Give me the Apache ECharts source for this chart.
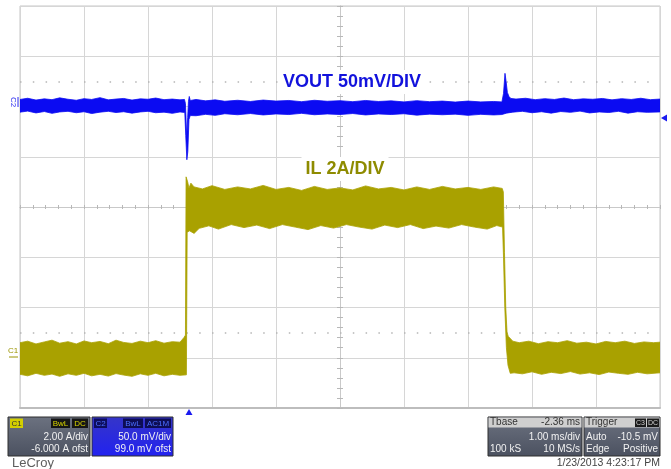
<!DOCTYPE html>
<html><head><meta charset="utf-8">
<script src="https://cdn.jsdelivr.net/npm/echarts@6/dist/echarts.min.js"></script>
<style>html,body{margin:0;padding:0;background:#fff}#c{width:671px;height:469px}</style>
</head><body><div id="c"></div><script>
// ---------- DATA (time in ms from left edge of screen, 1 ms/div) ----------
// C1 inductor current IL (A), 2 A/div, -6 A offset -> envelope of the noisy trace
const c1Upper = [[0,0.60],[0.12,0.66],[0.25,0.55],[0.38,0.63],[0.5,0.70],[0.62,0.58],[0.75,0.64],[0.88,0.55],[1.0,0.67],[1.12,0.60],[1.25,0.65],[1.38,0.56],[1.5,0.70],[1.62,0.61],[1.75,0.57],[1.88,0.66],[2.0,0.60],[2.12,0.68],[2.25,0.58],[2.38,0.64],[2.5,0.62],[2.56,0.80],[2.585,0.90],
 [2.595,7.2],[2.62,7.0],[2.64,6.75],[2.67,6.95],[2.72,6.8],[2.85,6.72],[3.0,6.85],[3.2,6.7],[3.4,6.8],[3.6,6.72],[3.8,6.86],[4.0,6.7],[4.2,6.78],[4.4,6.66],[4.6,6.82],[4.8,6.7],[5.0,6.76],[5.2,6.68],[5.4,6.84],[5.6,6.72],[5.8,6.78],[6.0,6.68],[6.2,6.8],[6.4,6.7],[6.6,6.82],[6.8,6.72],[7.0,6.78],[7.2,6.7],[7.4,6.8],[7.535,6.74],
 [7.552,6.6],[7.57,4.2],[7.59,2.0],[7.61,1.0],[7.63,0.85],[7.70,0.66],[7.8,0.60],[7.95,0.66],[8.1,0.56],[8.25,0.64],[8.4,0.60],[8.55,0.68],[8.7,0.58],[8.85,0.62],[9.0,0.55],[9.15,0.65],[9.3,0.60],[9.45,0.66],[9.6,0.57],[9.75,0.63],[9.9,0.60],[10,0.62]];
const c1Lower = [[0,-0.66],[0.12,-0.72],[0.25,-0.62],[0.38,-0.70],[0.5,-0.65],[0.62,-0.74],[0.75,-0.64],[0.88,-0.70],[1.0,-0.62],[1.12,-0.72],[1.25,-0.66],[1.38,-0.73],[1.5,-0.63],[1.62,-0.69],[1.75,-0.74],[1.88,-0.64],[2.0,-0.70],[2.12,-0.62],[2.25,-0.72],[2.38,-0.66],[2.5,-0.70],[2.6,-0.68],
 [2.612,5.0],[2.65,5.05],[2.72,4.95],[2.8,5.15],[2.95,5.25],[3.1,5.12],[3.3,5.3],[3.5,5.18],[3.7,5.28],[3.9,5.14],[4.1,5.3],[4.3,5.2],[4.5,5.1],[4.7,5.26],[4.9,5.16],[5.1,5.3],[5.3,5.2],[5.5,5.12],[5.7,5.28],[5.9,5.18],[6.1,5.3],[6.3,5.14],[6.5,5.24],[6.7,5.16],[6.9,5.3],[7.1,5.2],[7.3,5.12],[7.45,5.26],[7.54,5.2],
 [7.555,4.0],[7.575,2.0],[7.6,0.4],[7.625,-0.3],[7.66,-0.62],[7.72,-0.60],[7.85,-0.64],[8.0,-0.56],[8.15,-0.66],[8.3,-0.58],[8.45,-0.63],[8.6,-0.55],[8.75,-0.65],[8.9,-0.60],[9.05,-0.67],[9.2,-0.57],[9.35,-0.62],[9.5,-0.66],[9.65,-0.58],[9.8,-0.64],[10,-0.60]];
// C2 output voltage VOUT (mV, AC), 50 mV/div, 99 mV offset
const c2Upper = [[0,8.0],[0.12,9.2],[0.25,7.4],[0.38,8.6],[0.5,7.8],[0.62,9.6],[0.75,8.2],[0.88,7.2],[1.0,8.8],[1.12,8.0],[1.25,9.8],[1.38,7.6],[1.5,8.4],[1.62,9.0],[1.75,7.4],[1.88,8.6],[2.0,8.2],[2.12,9.4],[2.25,7.8],[2.38,8.4],[2.5,7.6],[2.57,8.0],
 [2.585,4],[2.605,-30],[2.62,-10],[2.632,6],[2.645,11],[2.66,7],
 [2.75,8.0],[2.9,6.6],[3.05,7.6],[3.2,6.2],[3.4,7.2],[3.6,6.0],[3.8,7.4],[4.0,6.4],[4.2,7.0],[4.4,5.8],[4.6,7.2],[4.8,6.2],[5.0,6.8],[5.2,5.8],[5.4,7.0],[5.6,6.0],[5.8,6.6],[6.0,5.6],[6.2,6.8],[6.4,5.8],[6.6,6.4],[6.8,5.4],[7.0,6.4],[7.2,5.6],[7.4,6.0],[7.53,5.6],
 [7.555,14],[7.578,34],[7.595,26],[7.615,15],[7.64,11],[7.67,9],
 [7.75,8.4],[7.9,9.2],[8.05,7.8],[8.2,8.8],[8.35,8.0],[8.5,9.4],[8.65,7.8],[8.8,8.6],[8.95,8.2],[9.1,9.0],[9.25,7.6],[9.4,8.8],[9.55,8.0],[9.7,9.2],[9.85,7.8],[10,8.4]];
const c2Lower = [[0,-4.6],[0.12,-3.6],[0.25,-5.4],[0.38,-4.0],[0.5,-5.8],[0.62,-4.4],[0.75,-3.8],[0.88,-5.2],[1.0,-4.2],[1.12,-6.0],[1.25,-4.6],[1.38,-3.8],[1.5,-5.0],[1.62,-4.2],[1.75,-5.6],[1.88,-4.4],[2.0,-3.8],[2.12,-5.2],[2.25,-4.6],[2.38,-5.8],[2.5,-4.4],[2.575,-5.0],
 [2.59,-28],[2.607,-52],[2.622,-44],[2.64,-12],[2.66,-8],
 [2.75,-8.2],[2.9,-6.8],[3.05,-7.8],[3.2,-6.2],[3.4,-7.2],[3.6,-6.0],[3.8,-7.4],[4.0,-6.4],[4.2,-7.0],[4.4,-5.8],[4.6,-7.2],[4.8,-6.4],[5.0,-7.0],[5.2,-6.0],[5.4,-7.4],[5.6,-6.4],[5.8,-7.0],[6.0,-6.2],[6.2,-7.6],[6.4,-6.6],[6.6,-7.2],[6.8,-6.6],[7.0,-7.8],[7.2,-6.8],[7.4,-7.4],[7.53,-7.0],
 [7.6,-5.6],[7.7,-4.6],
 [7.85,-3.8],[8.0,-5.2],[8.15,-4.2],[8.3,-5.6],[8.45,-4.0],[8.6,-4.8],[8.75,-3.6],[8.9,-5.4],[9.05,-4.4],[9.2,-5.0],[9.35,-3.8],[9.5,-5.6],[9.65,-4.2],[9.8,-4.8],[10,-4.4]];
// screen settings
const timeRange = [0, 10];          // 10 div x 1 ms/div
const c1Range = [-2, 14];           // 2 A/div, -6 A offset -> 6 A at centre
const c2Range = [-299, 101];        // 50 mV/div, 99 mV offset
const divRange = [-4, 4];
const dottedLevelsA = [11, 1];
const labelVout = 'VOUT 50mV/DIV';
const labelIL = 'IL 2A/DIV';
const c1Info = ['2.00 A/div', '-6.000 A ofst'];
const c2Info = ['50.0 mV/div', '99.0 mV ofst'];
const tbaseInfo = ['-2.36 ms', '1.00 ms/div', '100 kS', '10 MS/s'];
const trigInfo = ['Auto', '-10.5 mV', 'Edge', 'Positive'];
const dateText = '1/23/2013 4:23:17 PM';

// ---------- CHART ----------
const BLUE = '#0b0bf2', OLIVE = '#a9a100';
const FONT = '"Liberation Sans", Arial, sans-serif';
function envelopeSeries(name, upper, lower, yAxisIndex, color) {
  const outline = upper.concat(lower.slice().reverse());
  return {
    name, type: 'custom', xAxisIndex: 0, yAxisIndex, data: outline,
    encode: { x: 0, y: 1 }, silent: true, animation: false, clip: true, z: 5,
    renderItem(params, api) {
      if (params.dataIndex !== 0) return null;
      return { type: 'polygon', shape: { points: outline.map(p => api.coord(p)) },
        style: { fill: color, stroke: color, lineWidth: 0.8 } };
    }
  };
}
const centerAxis = (inside, idx) => ({
  type: 'value', min: timeRange[0], max: timeRange[1], interval: 1, position: 'bottom',
  axisLine: { show: true, onZero: true, onZeroAxisIndex: idx, lineStyle: { color: '#c9c9c9', width: 1 } },
  axisTick: { show: true, inside, length: 2, lineStyle: { color: '#b8b8b8' } },
  minorTick: { show: true, splitNumber: 5, length: 2, lineStyle: { color: '#b8b8b8' } },
  axisLabel: { show: false }, splitLine: { show: false }
});
const centerYAxis = (inside, idx) => ({
  type: 'value', min: divRange[0], max: divRange[1], interval: 1, position: 'left',
  axisLine: { show: true, onZero: true, onZeroAxisIndex: idx, lineStyle: { color: '#c9c9c9', width: 1 } },
  axisTick: { show: true, inside, length: 3, lineStyle: { color: '#b8b8b8' } },
  minorTick: { show: true, splitNumber: 5, length: 3, lineStyle: { color: '#b8b8b8' } },
  axisLabel: { show: false }, splitLine: { show: false }
});

function rect(x, y, w, h, fill, stroke) {
  return { type: 'rect', shape: { x, y, width: w, height: h }, style: { fill, stroke: stroke || null, lineWidth: 1 }, z: 100, silent: true };
}
function txt(x, y, s, fill, size, align, weight) {
  return { type: 'text', x, y, z: 101, silent: true,
    style: { text: s, fill, font: (weight || 'normal') + ' ' + size + 'px ' + FONT, align: align || 'left', verticalAlign: 'middle' } };
}
const panelGrad = { type: 'linear', x: 0, y: 0, x2: 0, y2: 1, colorStops: [{ offset: 0, color: '#6c7280' }, { offset: 1, color: '#4b5160' }] };
const blueGrad = { type: 'linear', x: 0, y: 0, x2: 0, y2: 1, colorStops: [{ offset: 0, color: '#3535c8' }, { offset: 1, color: '#2222f0' }] };

const graphics = [
  // trace labels
  { type: 'text', x: 352, y: 82, z: 50, silent: true, style: { text: labelVout, fill: '#1212dc', font: 'bold 18px ' + FONT, align: 'center', verticalAlign: 'middle', backgroundColor: '#fff', padding: [3, 4] } },
  { type: 'text', x: 345, y: 169, z: 50, silent: true, style: { text: labelIL, fill: '#8e8b00', font: 'bold 18px ' + FONT, align: 'center', verticalAlign: 'middle', backgroundColor: '#fff', padding: [3, 4] } },
  // channel markers
  { type: 'text', x: 13, y: 102, rotation: -Math.PI / 2, z: 60, silent: true, style: { text: 'C2', fill: '#2b2bf0', font: '8px ' + FONT, align: 'center', verticalAlign: 'middle' } },
  { type: 'line', shape: { x1: 18, y1: 97, x2: 18, y2: 107 }, style: { stroke: '#2b2bf0', lineWidth: 1 }, z: 60, silent: true },
  txt(13, 351, 'C1', '#9a9400', 8, 'center'),
  { type: 'line', shape: { x1: 9, y1: 357, x2: 18, y2: 357 }, style: { stroke: '#9a9400', lineWidth: 1 }, z: 60, silent: true },
  { type: 'polygon', shape: { points: [[661, 118], [667, 114.5], [667, 121.5]] }, style: { fill: '#1a1af0' }, z: 60, silent: true },
  { type: 'polygon', shape: { points: [[189, 409], [185.5, 415], [192.5, 415]] }, style: { fill: '#1a1af0' }, z: 60, silent: true },
  // C1 panel
  rect(8, 417, 82, 39, panelGrad, '#2e2e2e'),
  rect(10, 418.5, 13, 9.5, '#d3cf00'), txt(16.5, 423.5, 'C1', '#333', 8, 'center'),
  rect(51, 418.5, 19, 9.5, '#151515'), txt(60.5, 423.5, 'BwL', '#d8d400', 8, 'center'),
  rect(72, 418.5, 16, 9.5, '#151515'), txt(80, 423.5, 'DC', '#d8d400', 8, 'center'),
  txt(88, 437.5, c1Info[0], '#f2f2f2', 10, 'right'),
  txt(88, 449, c1Info[1], '#f2f2f2', 10, 'right'),
  // C2 panel
  rect(92, 417, 81, 39, blueGrad, '#2e2e2e'),
  rect(94, 418.5, 13, 9.5, '#0d0d5e'), txt(100.5, 423.5, 'C2', '#4a6dff', 8, 'center'),
  rect(123, 418.5, 20, 9.5, '#0d0d55'), txt(133, 423.5, 'BwL', '#4a6dff', 8, 'center'),
  rect(145, 418.5, 26, 9.5, '#0d0d55'), txt(158, 423.5, 'AC1M', '#4a6dff', 8, 'center'),
  txt(171, 437.5, c2Info[0], '#f2f2f2', 10, 'right'),
  txt(171, 449, c2Info[1], '#f2f2f2', 10, 'right'),
  txt(12, 463, 'LeCroy', '#5e5e5e', 13, 'left'),
  // Tbase panel
  rect(488, 417, 94, 39, panelGrad, '#2e2e2e'),
  rect(488.5, 417.5, 93, 10, '#cfcfcf'),
  txt(490, 422.5, 'Tbase', '#333', 10, 'left'), txt(580, 422.5, tbaseInfo[0], '#333', 10, 'right'),
  txt(580, 437.5, tbaseInfo[1], '#f2f2f2', 10, 'right'),
  txt(490, 449, tbaseInfo[2], '#f2f2f2', 10, 'left'), txt(580, 449, tbaseInfo[3], '#f2f2f2', 10, 'right'),
  // Trigger panel
  rect(584, 417, 76, 39, panelGrad, '#2e2e2e'),
  rect(584.5, 417.5, 75, 10, '#cfcfcf'),
  txt(586, 422.5, 'Trigger', '#333', 10, 'left'),
  rect(635, 418.5, 11, 8.5, '#1a1a1a'), txt(640.5, 423, 'C3', '#cfcfcf', 7, 'center'),
  rect(647, 418.5, 12, 8.5, '#1a1a1a'), txt(653, 423, 'DC', '#cfcfcf', 7, 'center'),
  txt(586, 437.5, trigInfo[0], '#f2f2f2', 10, 'left'), txt(658, 437.5, trigInfo[1], '#f2f2f2', 10, 'right'),
  txt(586, 449, trigInfo[2], '#f2f2f2', 10, 'left'), txt(658, 449, trigInfo[3], '#f2f2f2', 10, 'right'),
  txt(660, 463, dateText, '#444', 10.5, 'right')
];

const chart = echarts.init(document.getElementById('c'), null, { renderer: 'canvas' });
chart.setOption({
  animation: false,
  backgroundColor: '#fff',
  grid: { left: 20, right: 11, top: 6, bottom: 61, show: true, borderColor: '#c6c6c6', borderWidth: 1, backgroundColor: '#fff', outerBoundsMode: 'none' },
  xAxis: [
    { type: 'value', min: timeRange[0], max: timeRange[1], interval: 1, position: 'bottom',
      axisLine: { show: true, onZero: false, lineStyle: { color: '#bdbdbd', width: 2 } },
      axisTick: { show: false }, axisLabel: { show: false },
      splitLine: { show: true, lineStyle: { color: '#d6d6d6', width: 1 } } },
    centerAxis(true, 2),
    centerAxis(false, 2),
    { type: 'value', min: -5, max: 5, show: false }
  ],
  yAxis: [
    { type: 'value', min: c1Range[0], max: c1Range[1], interval: 2, position: 'left',
      axisLine: { show: false, onZero: false }, axisTick: { show: false }, axisLabel: { show: false },
      splitLine: { show: true, lineStyle: { color: '#d6d6d6', width: 1 } } },
    { type: 'value', min: c2Range[0], max: c2Range[1], show: false, axisLine: { onZero: false } },
    centerYAxis(true, 3),
    centerYAxis(false, 3)
  ],
  series: [
    { type: 'line', xAxisIndex: 0, yAxisIndex: 0, data: [], silent: true,
      markLine: { silent: true, symbol: 'none', label: { show: false },
        lineStyle: { color: '#b5b5b5', width: 1.5, type: [1.5, 11.3] },
        data: dottedLevelsA.map(v => ({ yAxis: v })) } },
    envelopeSeries('IL', c1Upper, c1Lower, 0, OLIVE),
    envelopeSeries('VOUT', c2Upper, c2Lower, 1, BLUE)
  ],
  graphic: graphics
});
</script></body></html>
